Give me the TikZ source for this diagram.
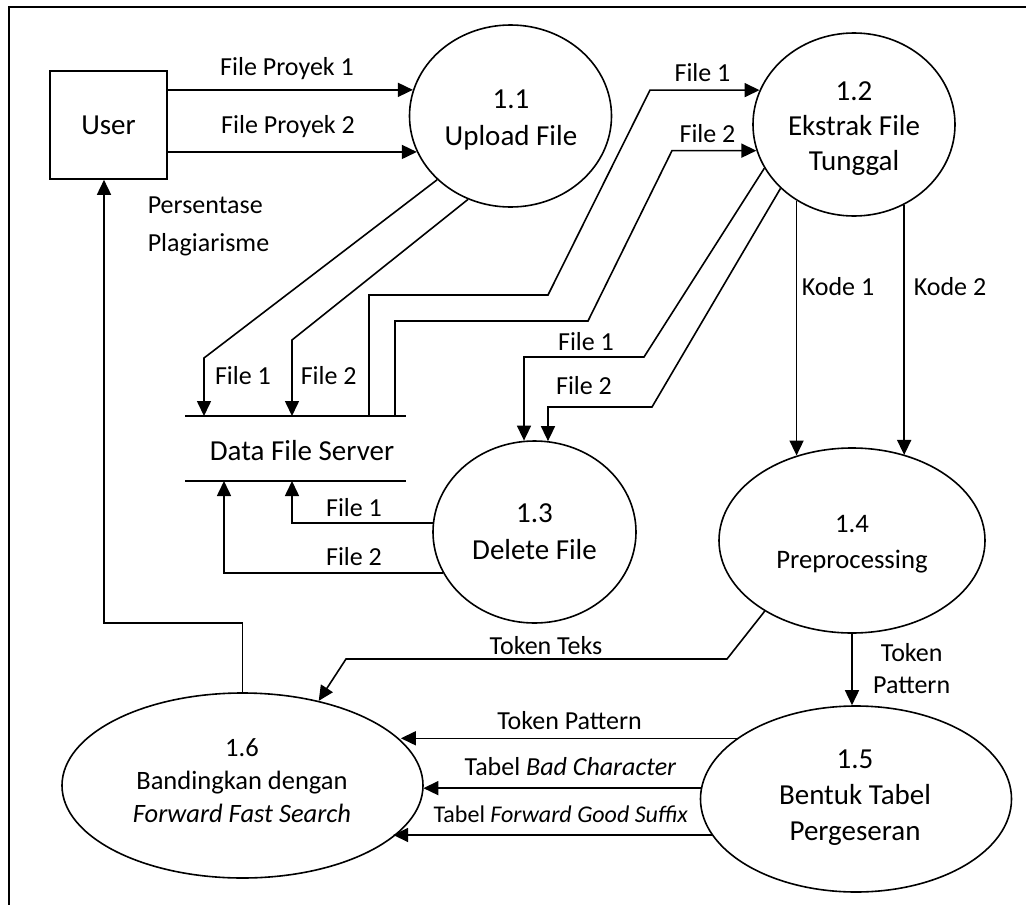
\documentclass[tikz,border=0pt]{standalone}
\usepackage{fontspec}
\setmainfont{Carlito}
\usetikzlibrary{arrows.meta,shapes.geometric}
\newcommand{\txtstack}[2]{\begin{tabular}[t]{@{}#1@{}}#2\end{tabular}}
\begin{document}
\begin{tikzpicture}[x=1pt,y=-1pt,
  line width=1.6pt,
  proc/.style={draw, ellipse, inner sep=0pt},
  ext/.style={draw, rectangle, inner sep=0pt, minimum width=117pt, minimum height=108pt, font=\fontsize{29}{34}\selectfont},
  lbl/.style={inner sep=0pt, anchor=base, font=\fontsize{26}{32}\selectfont},
  arr/.style={-{Triangle[length=15pt,width=14pt]}},
  frame/.style={line width=2.2pt}]
\fill[white] (0,0) rectangle (1026,905);
\useasboundingbox (0,0) rectangle (1026,905);

% outer frame (top and left edges)
\draw[frame] (9,905) -- (9,7) -- (1026,7);

% external entity
\node[ext] (user) at (108.5,125) {User};

% processes
\node[proc, minimum width=202pt, minimum height=182pt] (p11) at (510.5,116) {};
\node[proc, minimum width=202pt, minimum height=183pt] (p12) at (854,124.5) {};
\node[proc, minimum width=203pt, minimum height=182pt] (p13) at (534.5,532) {};
\node[proc, minimum width=266pt, minimum height=185pt] (p14) at (852,540.5) {};
\node[proc, minimum width=311pt, minimum height=186pt] (p15) at (856,799) {};
\node[proc, minimum width=361pt, minimum height=185pt] (p16) at (242.5,785.5) {};

\node[lbl, font=\fontsize{29}{37}\selectfont] (t11) at (511,108) {\txtstack{c}{1.1\\Upload File}};
\node[lbl, font=\fontsize{29}{35}\selectfont] (t12) at (854,100) {\txtstack{c}{1.2\\Ekstrak File\\Tunggal}};
\node[lbl, font=\fontsize{29}{37}\selectfont] (t13) at (534.5,522) {\txtstack{c}{1.3\\Delete File}};
\node[lbl, font=\fontsize{26.7}{36}\selectfont] (t14) at (852,532) {\txtstack{c}{1.4\\Preprocessing}};
\node[lbl, font=\fontsize{29}{36}\selectfont] (t15) at (855,768) {\txtstack{c}{1.5\\Bentuk Tabel\\Pergeseran}};
\node[lbl, font=\fontsize{26.5}{33}\selectfont] (t16) at (242,756) {\txtstack{c}{1.6\\Bandingkan dengan\\\textit{Forward Fast Search}}};

% data store
\coordinate (sttl) at (185,416);
\coordinate (sttr) at (406,416);
\coordinate (stbl) at (185,481);
\coordinate (stbr) at (406,481);
\draw (sttl) -- (sttr);
\draw (stbl) -- (stbr);
\node[lbl, font=\fontsize{29}{34}\selectfont] (store) at (302,460) {Data File Server};

% User -> Upload File
\draw[arr] (user.east |- p11.165.6) -- (p11.165.6);
\draw[arr] (user.east |- p11.201.2) -- (p11.201.2);
\node[lbl] (lfp1) at (287,75) {File Proyek 1};
\node[lbl] (lfp2) at (288,133) {File Proyek 2};

% Upload File -> store
\coordinate (b1) at (204,358);
\coordinate (b2) at (292,340);
\draw[arr] (p11.221.4) -- (b1) -- (b1 |- sttl);
\draw[arr] (p11.243.2) -- (b2) -- (b2 |- sttl);
\node[lbl] (ls1) at (243,384) {File 1};
\node[lbl] (ls2) at (328.7,384) {File 2};

% store -> Ekstrak File Tunggal
\coordinate (c1a) at (369,295);
\coordinate (c1b) at (548,295);
\coordinate (c1c) at (650,91);
\coordinate (c2a) at (395,321);
\coordinate (c2b) at (588,321);
\coordinate (c2c) at (672,152);
\draw[arr] (c1a |- sttl) -- (c1a) -- (c1b) -- (c1c |- p12.160.4) -- (p12.160.4);
\draw[arr] (c2a |- sttl) -- (c2a) -- (c2b) -- (c2c |- p12.195.9) -- (p12.195.9);
\node[lbl] (le1) at (702.5,81) {File 1};
\node[lbl] (le2) at (707.5,142) {File 2};

% Ekstrak File Tunggal -> Delete File
\coordinate (d1a) at (644,357);
\coordinate (d1b) at (524,357);
\coordinate (d2a) at (652,407);
\coordinate (d2b) at (548,407);
\draw[arr] (p12.206.6) -- (d1a) -- (d1b) -- (d1b |- p13.96.6);
\draw[arr] (p12.221.4) -- (d2a) -- (d2b) -- (d2b |- p13.81.5);
\node[lbl] (ld1) at (586,350) {File 1};
\node[lbl] (ld2) at (584,394) {File 2};

% Delete File -> store
\coordinate (e1) at (292,524);
\coordinate (e2) at (224,573);
\draw[arr] (p13.175.5) -- (p13.175.5 -| e1) -- (e1 |- stbl);
\draw[arr] (p13.204.3) -- (p13.204.3 -| e2) -- (e2 |- stbl);
\node[lbl] (lr1) at (354,516) {File 1};
\node[lbl] (lr2) at (354,565) {File 2};

% Ekstrak File Tunggal -> Preprocessing
\draw[arr] (p12.233) -- (p12.233 |- p14.123.2);
\draw[arr] (p12.302.2) -- (p12.302.2 |- p14.58.6);
\node[lbl] (lk1) at (838,295) {Kode 1};
\node[lbl] (lk2) at (950,295) {Kode 2};

% Preprocessing -> Bandingkan
\coordinate (f1) at (727,659);
\coordinate (f2) at (346,659);
\draw[arr] (p14.219.2) -- (f1) -- (f2) -- (p16.48.7);
\node[lbl] (ltt) at (546,654) {Token Teks};

% Preprocessing -> Bentuk Tabel
\draw[arr] (p14.south) -- (p14.south |- p15.north);
\node[lbl, font=\fontsize{26}{31.3}\selectfont] (ltp) at (911.7,661.7) {\txtstack{c}{Token\\Pattern}};

% Bentuk Tabel -> Bandingkan
\draw[arr] (p15.153.9) -- (p15.153.9 -| p16.16.1);
\draw[arr] (p15.176.3) -- (p15.176.3 -| p16.358.9);
\draw[arr] (p15.194.5) -- (p15.194.5 -| p16.341.5);
\node[lbl] (lb1) at (569.5,729) {Token Pattern};
\node[lbl] (lb2) at (570.5,775) {Tabel \textit{Bad Character}};
\node[lbl, font=\fontsize{24}{30}\selectfont] (lb3) at (560.8,822.7) {Tabel \textit{Forward Good Suffix}};

% Bandingkan -> User
\coordinate (g1) at (104,623);
\draw[arr] (p16.north) |- (g1) -- (g1 |- user.south);
\node[lbl, anchor=base west, font=\fontsize{26}{38}\selectfont] (lpp) at (147,213) {\txtstack{l}{Persentase\\Plagiarisme}};
\end{tikzpicture}
\end{document}
